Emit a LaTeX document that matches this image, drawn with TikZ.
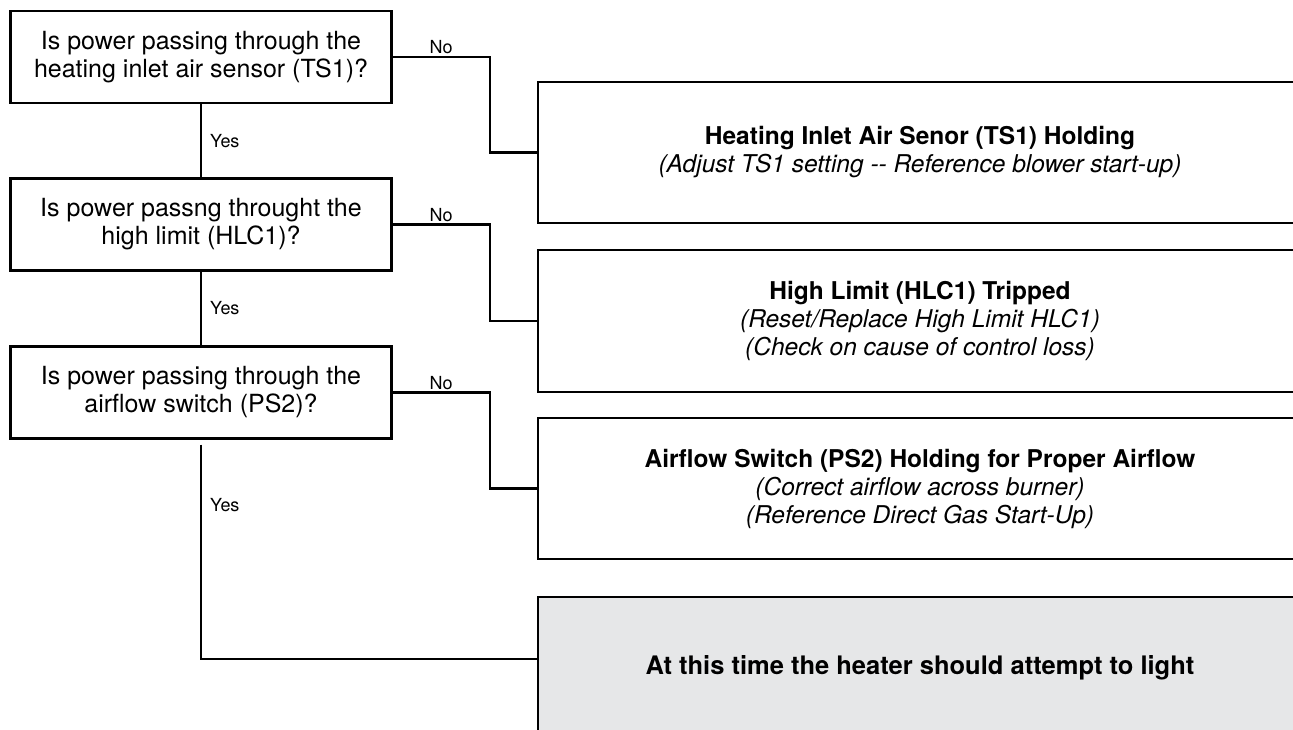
\documentclass[tikz,border=0pt]{standalone}
\usepackage{fontspec}
\setmainfont{TeX Gyre Heros}
\usepackage{xcolor}
\definecolor{panelgray}{HTML}{E6E7E8}

\begin{document}
\begin{tikzpicture}[x=1pt, y=-1pt,
    question/.style={rectangle, draw, line width=2.2pt, minimum width=381pt, minimum height=92pt, inner sep=0pt, align=center, font=\fontsize{25}{28}\selectfont},
    answer/.style={rectangle, draw, line width=2.2pt, minimum width=764pt, minimum height=141pt, inner sep=0pt, align=center, font=\fontsize{24.5}{28}\selectfont},
    final/.style={answer, fill=panelgray, minimum height=142pt, font=\fontsize{25.5}{28}\selectfont\bfseries},
    lbl/.style={font=\fontsize{18}{20}\selectfont, inner sep=2pt},
    link/.style={draw, line width=2.2pt}
]
    \path[use as bounding box, clip] (0,0) rectangle (1293,730);

    % Questions
    \node[question] (q1) at (201,57) {Is power passing through the\\heating inlet air sensor (TS1)?};
    \node[question] (q2) at (201,224.5) {Is power passng throught the\\high limit (HLC1)?};
    \node[question] (q3) at (201,392.5) {Is power passing through the\\airflow switch (PS2)?};

    % Outcomes
    \node[answer] (a1) at (920,152.5) {\textbf{Heating Inlet Air Senor (TS1) Holding}\\\textit{(Adjust TS1 setting -{}- Reference blower start-up)}};
    \node[answer, minimum height=142pt] (a2) at (920,321) {\textbf{High Limit (HLC1) Tripped}\\\textit{(Reset/Replace High Limit HLC1)}\\\textit{(Check on cause of control loss)}};
    \node[answer] (a3) at (920,488.5) {\textbf{Airflow Switch (PS2) Holding for Proper Airflow}\\\textit{(Correct airflow across burner)}\\\textit{(Reference Direct Gas Start-Up)}};
    \node[final] (done) at (920,668) {At this time the heater should attempt to light};

    % No branches
    \path[link] (q1.east) -- node[lbl, above] (no1) {No} ++(97,0) |- (a1.west);
    \path[link] (q2.east) -- node[lbl, above] (no2) {No} ++(97,0) |- (a2.west);
    \path[link] (q3.east) -- node[lbl, above] (no3) {No} ++(97,0) |- (a3.west);

    % Yes branches
    \path[link] (q1) -- node[lbl, right, xshift=6pt] (yes1) {Yes} (q2);
    \path[link] (q2) -- node[lbl, right, xshift=6pt] (yes2) {Yes} (q3);
    \path[link] ([yshift=-5pt]q3.south) |- node[lbl, right, pos=0.14, xshift=6pt] (yes3) {Yes} ([yshift=9pt]done.west);
\end{tikzpicture}
\end{document}
